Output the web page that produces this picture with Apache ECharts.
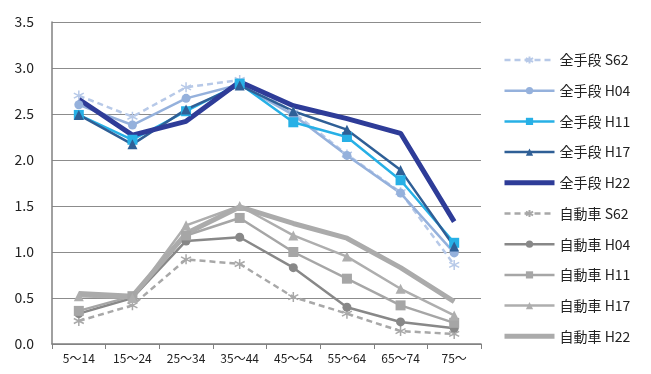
<!DOCTYPE html>
<html>
<head>
<meta charset="utf-8">
<script src="https://cdn.jsdelivr.net/npm/echarts@6/dist/echarts.min.js"></script>
<style>
  html, body { margin: 0; padding: 0; background: #fff; }
  #chart { width: 651px; height: 374px; }
</style>
</head>
<body>
<div id="chart"></div>
<script>
// 年齢階層
const ages = ['5〜14', '15〜24', '25〜34', '35〜44', '45〜54', '55〜64', '65〜74', '75〜'];

// 全手段
const allS62 = [2.70, 2.47, 2.79, 2.87, 2.52, 2.06, 1.65, 0.86];
const allH04 = [2.60, 2.38, 2.67, 2.82, 2.49, 2.05, 1.64, 0.99];
const allH11 = [2.49, 2.22, 2.53, 2.83, 2.41, 2.25, 1.78, 1.10];
const allH17 = [2.49, 2.17, 2.55, 2.81, 2.53, 2.33, 1.89, 1.06];
const allH22 = [2.66, 2.27, 2.42, 2.85, 2.59, 2.45, 2.29, 1.33];

// 自動車
const carS62 = [0.25, 0.42, 0.92, 0.87, 0.51, 0.33, 0.14, 0.11];
const carH04 = [0.33, 0.50, 1.12, 1.16, 0.83, 0.40, 0.24, 0.17];
const carH11 = [0.36, 0.52, 1.18, 1.37, 1.00, 0.71, 0.42, 0.23];
const carH17 = [0.52, 0.50, 1.29, 1.50, 1.18, 0.95, 0.60, 0.31];
const carH22 = [0.55, 0.52, 1.20, 1.49, 1.31, 1.15, 0.83, 0.46];

const yTicks = [0, 0.5, 1.0, 1.5, 2.0, 2.5, 3.0, 3.5];

// 星印（アスタリスク）
const star = 'path://M5,0 L5,10 M0,2.5 L10,7.5 M0,7.5 L10,2.5';

function line(name, data, color, width, symbol, size, dashed) {
    const isStar = symbol === star;
    return {
        name: name,
        type: 'line',
        data: data,
        symbol: symbol || 'circle',
        symbolSize: size,
        showSymbol: !!symbol,
        lineStyle: { color: color, width: width, type: dashed ? [6, 4] : 'solid' },
        itemStyle: isStar
            ? { color: color, borderColor: color, borderWidth: 1.5 }
            : { color: color },
        emphasis: { disabled: true },
        animation: false
    };
}

const series = [
    line('全手段 S62', allS62, '#b7c9e8', 2.5, star, 10, true),
    line('全手段 H04', allH04, '#95b1dc', 2.5, 'circle', 9, false),
    line('全手段 H11', allH11, '#27b0e6', 2.5, 'rect', 10, false),
    line('全手段 H17', allH17, '#2f5f96', 2.5, 'triangle', 10, false),
    line('全手段 H22', allH22, '#2e3c98', 5, null, 0, false),
    line('自動車 S62', carS62, '#a8a8a8', 2.5, star, 10, true),
    line('自動車 H04', carH04, '#888888', 2.5, 'circle', 9, false),
    line('自動車 H11', carH11, '#a6a6a6', 2.5, 'rect', 10, false),
    line('自動車 H17', carH17, '#aeaeae', 2.5, 'triangle', 10, false),
    line('自動車 H22', carH22, '#ababab', 5, null, 0, false)
];

// 記号なしの系列は凡例でも記号を隠す
const legendData = series.map(s => s.showSymbol
    ? { name: s.name }
    : { name: s.name, itemStyle: { opacity: 0 } });

var chart = echarts.init(document.getElementById('chart'));
var option = {
    textStyle: { fontFamily: '"Noto Sans CJK JP", "Noto Sans", sans-serif' },
    grid: { left: 52, right: 170, top: 22, bottom: 30 },
    legend: {
        orient: 'vertical',
        left: 497,
        top: 48,
        itemWidth: 50,
        itemHeight: 9,
        itemGap: 16.7,
        data: legendData,
        lineStyle: { width: 'inherit' },
        textStyle: { fontSize: 14, color: '#222', fontFamily: '"Noto Sans CJK JP", sans-serif' }
    },
    xAxis: {
        type: 'category',
        data: ages,
        boundaryGap: true,
        axisLine: { lineStyle: { color: '#808080', width: 1.5 } },
        axisTick: { show: true, length: 5, lineStyle: { color: '#808080' } },
        axisLabel: { fontSize: 12, color: '#222', margin: 8 }
    },
    yAxis: {
        type: 'value',
        min: yTicks[0],
        max: yTicks[yTicks.length - 1],
        interval: 0.5,
        axisLine: { show: true, lineStyle: { color: '#808080', width: 1.5 } },
        axisTick: { show: false },
        axisLabel: {
            fontSize: 14, color: '#222', margin: 18,
            formatter: v => v.toFixed(1)
        },
        splitLine: { lineStyle: { color: '#8c8c8c', width: 1 } }
    },
    series: series
};
chart.setOption(option);
</script>
</body>
</html>
